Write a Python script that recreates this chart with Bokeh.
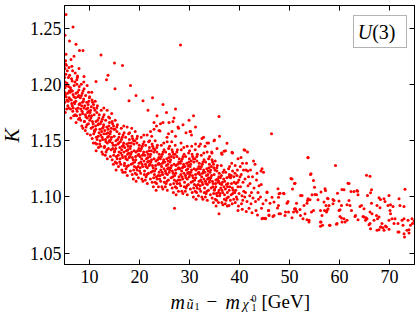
from bokeh.plotting import figure
from bokeh.layouts import column, row
from bokeh.models import (Range1d, FixedTicker, LinearAxis, Label, BoxAnnotation,
                          CustomJSTickFormatter, NumeralTickFormatter, ColumnDataSource)
from bokeh.embed import file_html
from bokeh.resources import INLINE

# ---------------- data ----------------
x_ticks = [10, 20, 30, 40, 50, 60, 70]
y_ticks = [1.05, 1.10, 1.15, 1.20, 1.25]

band_05_09 = [
    (5.05,1.184),(5.12,1.197),(5.03,1.206),(5.31,1.189),(5.08,1.214),(5.44,1.178),(5.22,1.221),(5.63,1.192),
    (5.51,1.201),(5.27,1.209),(5.72,1.185),(5.14,1.175),(5.83,1.198),(5.38,1.217),(5.91,1.188),(5.18,1.191),
    (5.66,1.181),(5.02,1.193),(5.55,1.212),(5.77,1.206),(5.34,1.199),(5.86,1.179),(5.10,1.202),(5.95,1.194),(5.47,1.186),
    (6.07,1.187),(6.33,1.195),(6.21,1.178),(6.52,1.203),(6.44,1.183),(6.71,1.191),(6.62,1.212),(6.84,1.172),
    (6.93,1.199),(6.02,1.208),(6.36,1.186),(6.55,1.181),(6.18,1.197),(6.88,1.189),(6.66,1.176),(6.41,1.205),
    (6.97,1.184),(6.12,1.193),(6.75,1.179),(6.48,1.216),(6.27,1.170),(6.58,1.194),
    (7.04,1.183),(7.29,1.192),(7.15,1.173),(7.48,1.200),(7.37,1.178),(7.69,1.189),(7.58,1.206),(7.79,1.169),
    (7.88,1.195),(7.09,1.202),(7.25,1.185),(7.53,1.176),(7.14,1.210),(7.91,1.182),(7.63,1.193),(7.42,1.172),
    (7.95,1.198),(7.21,1.188),(7.74,1.179),(7.46,1.204),(7.32,1.166),(7.85,1.190),
    (8.03,1.170),(8.38,1.190),(8.26,1.178),(8.59,1.184),(8.47,1.163),(8.71,1.194),(8.64,1.174),(8.83,1.187),
    (8.96,1.167),(8.08,1.183),(8.35,1.200),(8.52,1.176),(8.17,1.188),(8.89,1.179),(8.68,1.161),(8.43,1.181),
    (8.92,1.196),(8.13,1.173),(8.76,1.185),(8.55,1.192),(8.24,1.168),(8.86,1.202),
    (9.05,1.181),(9.31,1.162),(9.23,1.190),(9.57,1.170),(9.45,1.184),(9.78,1.165),(9.61,1.175),(9.82,1.193),
    (9.94,1.172),(9.01,1.167),(9.39,1.178),(9.56,1.156),(9.19,1.173),(9.88,1.185),(9.67,1.179),(9.49,1.164),
    (9.98,1.188),(9.16,1.159),(9.72,1.182),(9.53,1.199),(9.28,1.171),(9.84,1.176),
]

band_10_14 = [
    (10.06,1.168),(10.33,1.161),(10.22,1.177),(10.54,1.152),(10.41,1.172),(10.73,1.165),(10.62,1.184),(10.84,1.156),
    (10.93,1.173),(10.02,1.189),(10.36,1.180),(10.57,1.167),(10.18,1.155),(10.87,1.179),(10.66,1.162),(10.44,1.193),
    (10.97,1.159),(10.11,1.175),(10.77,1.148),(10.51,1.186),(10.27,1.170),(10.81,1.182),
    (11.04,1.158),(11.29,1.167),(11.15,1.148),(11.48,1.175),(11.37,1.153),(11.69,1.164),(11.58,1.181),(11.79,1.144),
    (11.88,1.170),(11.09,1.177),(11.25,1.160),(11.53,1.151),(11.14,1.185),(11.91,1.157),(11.63,1.168),(11.42,1.147),
    (11.95,1.173),(11.21,1.163),(11.74,1.154),(11.46,1.179),(11.32,1.141),(11.85,1.165),
    (12.03,1.147),(12.38,1.167),(12.26,1.155),(12.59,1.161),(12.47,1.140),(12.71,1.171),(12.64,1.151),(12.83,1.164),
    (12.96,1.144),(12.08,1.160),(12.35,1.177),(12.52,1.153),(12.17,1.165),(12.89,1.156),(12.68,1.138),(12.43,1.158),
    (12.92,1.173),(12.13,1.150),(12.76,1.162),(12.55,1.169),(12.24,1.145),(12.86,1.179),
    (13.05,1.159),(13.31,1.140),(13.23,1.168),(13.57,1.148),(13.45,1.162),(13.78,1.143),(13.61,1.153),(13.82,1.171),
    (13.94,1.150),(13.01,1.145),(13.39,1.156),(13.56,1.134),(13.19,1.151),(13.88,1.163),(13.67,1.157),(13.49,1.142),
    (13.98,1.166),(13.16,1.137),(13.72,1.160),(13.53,1.177),(13.28,1.149),(13.84,1.154),
    (14.06,1.149),(14.33,1.142),(14.22,1.158),(14.54,1.133),(14.41,1.153),(14.73,1.146),(14.62,1.165),(14.84,1.137),
    (14.93,1.154),(14.02,1.170),(14.36,1.161),(14.57,1.148),(14.18,1.136),(14.87,1.160),(14.66,1.143),(14.44,1.174),
    (14.97,1.140),(14.11,1.156),(14.77,1.129),(14.51,1.167),(14.27,1.151),(14.81,1.163),
]

band_15_19 = [
    (15.04,1.141),(15.29,1.150),(15.15,1.131),(15.48,1.158),(15.37,1.136),(15.69,1.147),(15.58,1.164),(15.79,1.127),
    (15.88,1.153),(15.09,1.160),(15.25,1.143),(15.53,1.134),(15.14,1.168),(15.91,1.140),(15.63,1.151),(15.42,1.130),
    (15.95,1.156),(15.21,1.146),(15.74,1.137),(15.46,1.162),(15.32,1.124),(15.85,1.148),
    (16.03,1.131),(16.38,1.151),(16.26,1.139),(16.59,1.145),(16.47,1.124),(16.71,1.155),(16.64,1.135),(16.83,1.148),
    (16.96,1.128),(16.08,1.144),(16.35,1.161),(16.52,1.137),(16.17,1.149),(16.89,1.140),(16.68,1.122),(16.43,1.142),
    (16.92,1.157),(16.13,1.134),(16.76,1.146),(16.55,1.153),(16.24,1.129),(16.86,1.163),
    (17.05,1.144),(17.31,1.125),(17.23,1.153),(17.57,1.133),(17.45,1.147),(17.78,1.128),(17.61,1.138),(17.82,1.156),
    (17.94,1.135),(17.01,1.130),(17.39,1.141),(17.56,1.119),(17.19,1.136),(17.88,1.148),(17.67,1.142),(17.49,1.127),
    (17.98,1.151),(17.16,1.122),(17.72,1.145),(17.53,1.162),(17.28,1.134),(17.84,1.139),
    (18.06,1.136),(18.33,1.129),(18.22,1.145),(18.54,1.120),(18.41,1.140),(18.73,1.133),(18.62,1.152),(18.84,1.124),
    (18.93,1.141),(18.02,1.157),(18.36,1.148),(18.57,1.135),(18.18,1.123),(18.87,1.147),(18.66,1.130),(18.44,1.161),
    (18.97,1.127),(18.11,1.143),(18.77,1.116),(18.51,1.154),(18.27,1.138),(18.81,1.150),
    (19.04,1.131),(19.29,1.140),(19.15,1.121),(19.48,1.148),(19.37,1.126),(19.69,1.137),(19.58,1.154),(19.79,1.117),
    (19.88,1.143),(19.09,1.150),(19.25,1.133),(19.53,1.124),(19.14,1.158),(19.91,1.130),(19.63,1.141),(19.42,1.120),
    (19.95,1.146),(19.21,1.136),(19.74,1.127),(19.46,1.152),(19.32,1.114),(19.85,1.138),
]

band_20_24 = [
    (20.03,1.123),(20.38,1.143),(20.26,1.131),(20.59,1.137),(20.47,1.116),(20.71,1.147),(20.64,1.127),(20.83,1.140),
    (20.96,1.120),(20.08,1.136),(20.35,1.153),(20.52,1.129),(20.17,1.141),(20.89,1.132),(20.68,1.114),(20.43,1.134),
    (20.92,1.149),(20.13,1.126),(20.76,1.138),(20.55,1.145),(20.24,1.121),(20.86,1.155),
    (21.05,1.137),(21.31,1.118),(21.23,1.146),(21.57,1.126),(21.45,1.140),(21.78,1.121),(21.61,1.131),(21.82,1.149),
    (21.94,1.128),(21.01,1.123),(21.39,1.134),(21.56,1.112),(21.19,1.129),(21.88,1.141),(21.67,1.135),(21.49,1.120),
    (21.98,1.144),(21.16,1.115),(21.72,1.138),(21.53,1.155),(21.28,1.127),(21.84,1.132),
    (22.06,1.129),(22.33,1.122),(22.22,1.138),(22.54,1.113),(22.41,1.133),(22.73,1.126),(22.62,1.145),(22.84,1.117),
    (22.93,1.134),(22.02,1.150),(22.36,1.141),(22.57,1.128),(22.18,1.116),(22.87,1.140),(22.66,1.123),(22.44,1.154),
    (22.97,1.120),(22.11,1.136),(22.77,1.109),(22.51,1.147),(22.27,1.131),(22.81,1.143),
    (23.04,1.123),(23.29,1.132),(23.15,1.113),(23.48,1.140),(23.37,1.118),(23.69,1.129),(23.58,1.146),(23.79,1.109),
    (23.88,1.135),(23.09,1.142),(23.25,1.125),(23.53,1.116),(23.14,1.150),(23.91,1.122),(23.63,1.133),(23.42,1.112),
    (23.95,1.138),(23.21,1.128),(23.74,1.119),(23.46,1.144),(23.32,1.106),(23.85,1.130),
    (24.03,1.116),(24.38,1.136),(24.26,1.124),(24.59,1.130),(24.47,1.109),(24.71,1.140),(24.64,1.120),(24.83,1.133),
    (24.96,1.113),(24.08,1.129),(24.35,1.146),(24.52,1.122),(24.17,1.134),(24.89,1.125),(24.68,1.107),(24.43,1.127),
    (24.92,1.142),(24.13,1.119),(24.76,1.131),(24.55,1.138),(24.24,1.114),(24.86,1.148),
]

band_25_29 = [
    (25.05,1.131),(25.31,1.112),(25.23,1.140),(25.57,1.120),(25.45,1.134),(25.78,1.115),(25.61,1.125),(25.82,1.143),
    (25.94,1.122),(25.01,1.117),(25.39,1.128),(25.56,1.106),(25.19,1.123),(25.88,1.135),(25.67,1.129),(25.49,1.114),
    (25.98,1.138),(25.16,1.109),(25.72,1.132),(25.53,1.149),(25.28,1.121),(25.84,1.126),
    (26.06,1.124),(26.33,1.117),(26.22,1.133),(26.54,1.108),(26.41,1.128),(26.73,1.121),(26.62,1.140),(26.84,1.112),
    (26.93,1.129),(26.02,1.145),(26.36,1.136),(26.57,1.123),(26.18,1.111),(26.87,1.135),(26.66,1.118),(26.44,1.149),
    (26.97,1.115),(26.11,1.131),(26.77,1.104),(26.51,1.142),(26.27,1.126),(26.81,1.138),
    (27.04,1.119),(27.29,1.128),(27.15,1.109),(27.48,1.136),(27.37,1.114),(27.69,1.125),(27.58,1.142),(27.79,1.105),
    (27.88,1.131),(27.09,1.138),(27.25,1.121),(27.53,1.112),(27.14,1.146),(27.91,1.118),(27.63,1.129),(27.42,1.108),
    (27.95,1.134),(27.21,1.124),(27.74,1.115),(27.46,1.140),(27.32,1.102),(27.85,1.126),
    (28.03,1.112),(28.38,1.132),(28.26,1.120),(28.59,1.126),(28.47,1.105),(28.71,1.136),(28.64,1.116),(28.83,1.129),
    (28.96,1.109),(28.08,1.125),(28.35,1.142),(28.52,1.118),(28.17,1.130),(28.89,1.121),(28.68,1.103),(28.43,1.123),
    (28.92,1.138),(28.13,1.115),(28.76,1.127),(28.55,1.134),(28.24,1.110),(28.86,1.144),
    (29.05,1.127),(29.31,1.108),(29.23,1.136),(29.57,1.116),(29.45,1.130),(29.78,1.111),(29.61,1.121),(29.82,1.139),
    (29.94,1.118),(29.01,1.113),(29.39,1.124),(29.56,1.102),(29.19,1.119),(29.88,1.131),(29.67,1.125),(29.49,1.110),
    (29.98,1.134),(29.16,1.105),(29.72,1.128),(29.53,1.145),(29.28,1.117),(29.84,1.122),
]

band_30_34 = [
    (30.06,1.120),(30.33,1.113),(30.22,1.129),(30.54,1.104),(30.41,1.124),(30.73,1.117),(30.62,1.136),(30.84,1.108),
    (30.93,1.125),(30.02,1.141),(30.36,1.132),(30.57,1.119),(30.18,1.107),(30.87,1.131),(30.66,1.114),(30.44,1.145),
    (30.97,1.111),(30.11,1.127),(30.77,1.100),(30.51,1.138),(30.27,1.122),(30.81,1.134),
    (31.04,1.115),(31.29,1.124),(31.15,1.105),(31.48,1.132),(31.37,1.110),(31.69,1.121),(31.58,1.138),(31.79,1.101),
    (31.88,1.127),(31.09,1.134),(31.25,1.117),(31.53,1.108),(31.14,1.142),(31.91,1.114),(31.63,1.125),(31.42,1.104),
    (31.95,1.130),(31.21,1.120),(31.74,1.111),(31.46,1.136),(31.32,1.098),(31.85,1.122),
    (32.03,1.107),(32.38,1.127),(32.26,1.115),(32.59,1.121),(32.47,1.100),(32.71,1.131),(32.64,1.111),(32.83,1.124),
    (32.96,1.104),(32.08,1.120),(32.35,1.137),(32.52,1.113),(32.17,1.125),(32.89,1.116),(32.68,1.098),(32.43,1.118),
    (32.92,1.133),(32.13,1.110),(32.76,1.122),(32.55,1.129),(32.24,1.105),(32.86,1.139),
    (33.05,1.122),(33.31,1.103),(33.23,1.131),(33.57,1.111),(33.45,1.125),(33.78,1.106),(33.61,1.116),(33.82,1.134),
    (33.94,1.113),(33.01,1.108),(33.39,1.119),(33.56,1.097),(33.19,1.114),(33.88,1.126),(33.67,1.120),(33.49,1.105),
    (33.98,1.129),(33.16,1.100),(33.72,1.123),(33.53,1.140),(33.28,1.112),(33.84,1.117),
    (34.06,1.115),(34.33,1.108),(34.22,1.124),(34.54,1.099),(34.41,1.119),(34.73,1.112),(34.62,1.131),(34.84,1.103),
    (34.93,1.120),(34.02,1.136),(34.36,1.127),(34.57,1.114),(34.18,1.102),(34.87,1.126),(34.66,1.109),(34.44,1.140),
    (34.97,1.106),(34.11,1.122),(34.77,1.095),(34.51,1.133),(34.27,1.117),(34.81,1.129),
]

band_35_45 = [
    (35.04,1.107),(35.29,1.115),(35.15,1.098),(35.48,1.123),(35.37,1.103),(35.69,1.113),(35.58,1.128),(35.79,1.095),
    (35.88,1.118),(35.09,1.124),(35.25,1.109),(35.53,1.101),(35.14,1.132),(35.91,1.106),(35.63,1.116),(35.42,1.097),
    (35.95,1.121),(35.21,1.112),(35.74,1.104),(35.46,1.126),(35.32,1.092),(35.85,1.114),
    (36.03,1.101),(36.38,1.119),(36.26,1.108),(36.59,1.113),(36.47,1.095),(36.71,1.122),(36.64,1.104),(36.83,1.116),
    (36.96,1.098),(36.08,1.112),(36.35,1.128),(36.52,1.106),(36.17,1.117),(36.89,1.109),(36.68,1.093),(36.43,1.111),
    (36.92,1.124),(36.13,1.103),
    (37.05,1.114),(37.31,1.097),(37.23,1.122),(37.57,1.104),(37.45,1.117),(37.78,1.100),(37.61,1.109),(37.82,1.125),
    (37.94,1.106),(37.01,1.102),(37.39,1.111),(37.56,1.092),(37.19,1.107),(37.88,1.118),(37.67,1.112),(37.49,1.099),
    (37.98,1.120),(37.16,1.094),
    (38.06,1.109),(38.33,1.102),(38.22,1.117),(38.54,1.094),(38.41,1.112),(38.73,1.106),(38.62,1.123),(38.84,1.098),
    (38.93,1.113),(38.02,1.127),(38.36,1.119),(38.57,1.108),(38.18,1.097),(38.87,1.118),(38.66,1.103),(38.44,1.130),
    (39.04,1.104),(39.29,1.112),(39.15,1.095),(39.48,1.119),(39.37,1.100),(39.69,1.109),(39.58,1.124),(39.79,1.092),
    (39.88,1.115),(39.09,1.121),(39.25,1.106),(39.53,1.098),(39.14,1.128),(39.91,1.103),(39.63,1.113),
    (40.10,1.118),(40.30,1.135),(40.60,1.130),(40.20,1.109),(40.50,1.101),(40.80,1.124),(40.40,1.094),(40.70,1.113),
    (40.90,1.142),(40.15,1.127),(40.55,1.089),(40.85,1.105),(40.35,1.120),(40.65,1.097),
    (41.10,1.116),(41.30,1.124),(41.60,1.140),(41.80,1.118),(41.20,1.104),(41.50,1.096),(41.70,1.110),(41.40,1.130),
    (41.90,1.090),(41.05,1.100),(41.65,1.123),(41.35,1.087),
    (42.10,1.112),(42.40,1.104),(42.80,1.132),(42.60,1.118),(42.30,1.094),(42.70,1.099),(42.20,1.124),(42.90,1.108),
    (42.50,1.086),(42.05,1.101),
    (43.10,1.129),(43.40,1.115),(43.70,1.104),(43.20,1.096),(43.90,1.110),(43.50,1.121),(43.30,1.088),(43.80,1.098),
    (43.60,1.084),
    (44.50,1.125),(44.30,1.123),(44.80,1.122),(44.35,1.111),(44.60,1.081),(44.90,1.081),(44.20,1.100),(44.70,1.094),
    (44.40,1.090),
    (45.50,1.104),(45.80,1.088),(45.20,1.081),(45.90,1.084),(45.30,1.097),
]

above_band = [
    (5.3,1.262),(6.7,1.251),(5.1,1.2435),(6.0,1.2385),(7.3,1.2356),(5.3,1.2267),(8.0,1.230),(8.7,1.230),
    (12.3,1.226),(15.0,1.219),(16.6,1.2167),(28.2,1.235),(13.7,1.208),(11.3,1.2025),(13.4,1.204),(18.2,1.199),
    (15.1,1.196),(19.3,1.190),(17.9,1.1854),(20.7,1.1854),(22.6,1.188),(21.7,1.177),(24.7,1.182),(23.5,1.172),
    (24.2,1.165),(25.9,1.166),(31.2,1.162),(32.8,1.153),(32.2,1.147),(33.8,1.148),(35.9,1.1715),(36.0,1.154),
    (35.0,1.1506),(37.5,1.1476),(46.4,1.156),(36.9,1.1405),(41.1,1.1414),(38.6,1.139),(53.7,1.135),(34.5,1.139),
    (36.5,1.138),(5.2,1.218),(5.9,1.215),(6.3,1.222),(6.9,1.225),(7.9,1.214),(7.6,1.2075),(8.9,1.207),
    (22.9,1.166),(23.4,1.163),(24.7,1.166),(26.7,1.167),(27.7,1.162),(30.1,1.158),(24.1,1.1586),(25.8,1.156),
    (22.2,1.158),(22.9,1.160),(30.2,1.158),(32.5,1.152),(31.2,1.147),(31.9,1.145),(33.5,1.148),(34.9,1.150),
    (36.4,1.139),(38.5,1.1397),(39.7,1.134),(27.2,1.154),(28.3,1.148),(25.5,1.153),(23.9,1.159),
    (26.5,1.158),(27.8,1.161),(29.3,1.157),(30.4,1.155),(28.7,1.164),(33.1,1.145),(35.5,1.143),(37.2,1.141),
    (26.9,1.170),(29.9,1.168),(25.4,1.175),(27.2,1.178),(30.8,1.172),
    (27.0,1.090),(35.9,1.085),(37.9,1.0925),(39.7,1.088),
]

tail_45_75 = [
    (53.7,1.1347),(50.5,1.116),(54.3,1.1205),(51.0,1.112),(50.6,1.107),(54.8,1.1146),(45.5,1.1043),(48.1,1.1033),
    (48.8,1.1033),(46.5,1.0998),(47.8,1.0998),(49.7,1.096),(52.5,1.1013),(55.1,1.1022),(55.7,1.0975),(53.6,1.0969),
    (54.1,1.0975),(47.6,1.0901),(49.8,1.0866),(51.0,1.0895),(52.1,1.0889),(50.8,1.0866),(51.3,1.088),(53.1,1.0851),
    (53.9,1.0792),(52.7,1.0807),(50.5,1.0816),(49.1,1.0836),(47.9,1.0851),(46.7,1.0827),(45.8,1.088),(54.8,1.088),
    (56.3,1.0777),(56.6,1.0748),(57.0,1.088),(57.3,1.0925),(57.7,1.0984),(56.3,1.1043),(57.1,1.1072),(47.7,1.1072),
    (47.8,1.0925),
    (59.2,1.1279),(54.2,1.120),(65.4,1.1193),(66.1,1.1184),(50.3,1.1164),(51.1,1.1122),(55.0,1.1087),(61.7,1.1122),
    (73.1,1.1069),(57.2,1.1057),(60.9,1.1063),(62.9,1.1049),(63.5,1.1057),(66.4,1.1063),(47.9,1.1028),(48.9,1.1028),
    (52.2,1.1013),(54.5,1.102),(55.4,1.102),(63.7,1.102),(69.9,1.1013),(68.9,1.0984),(53.7,1.0984),(58.9,1.0969),
    (56.9,1.0954),(53.5,1.0945),(46.9,1.0954),(46.1,1.0945),(49.5,1.0945),(51.4,1.0945),(52.9,1.0925),(57.9,1.0925),
    (60.4,1.0925),(61.5,1.0931),(64.4,1.0925),(67.5,1.0925),(70.2,1.0931),(72.1,1.0925),(51.2,1.0896),(51.5,1.0866),
    (54.4,1.0866),(56.2,1.088),(57.5,1.088),(59.9,1.088),(49.2,1.0866),(48.2,1.0851),(45.9,1.0836),(46.9,1.0836),
    (44.5,1.0807),(45.2,1.0807),(52.2,1.0836),(53.5,1.0798),(53.9,1.0777),(56.5,1.0836),(56.2,1.0777),(58.0,1.0748),
    (56.2,1.0739),(59.5,1.0763),(60.9,1.0807),(60.5,1.0777),(61.5,1.0792),(63.2,1.0836),(64.9,1.0821),(65.2,1.0792),
    (65.5,1.0807),(66.1,1.0763),(66.5,1.0851),(66.9,1.0792),(67.9,1.0821),(68.2,1.0733),(68.5,1.0763),(68.9,1.0704),
    (69.4,1.0733),(69.9,1.0792),(70.2,1.0851),(70.5,1.0807),(70.9,1.0763),(66.2,1.0718),(67.5,1.0704),(72.5,1.0792),
    (72.7,1.0748),(73.0,1.0644),(73.5,1.0704),(74.2,1.0748),(74.5,1.0807),(74.9,1.0786),(71.9,1.0688),(73.9,1.068),
    (61.9,1.1119),(60.5,1.1066),(59.6,1.1033),(62.3,1.1049),(63.6,1.1051),(66.2,1.1037),(65.6,1.1013),(71.9,1.0984),
    (57.6,1.0989),(58.7,1.0978),(59.9,1.0963),(61.9,1.0969),(67.9,1.0993),(68.2,1.0978),(58.7,1.094),(62.1,1.0925),
    (64.1,1.0916),(66.4,1.0945),(69.1,1.096),(69.7,1.0925),(70.7,1.0916),(72.9,1.0916),(57.7,1.0895),(60.1,1.0887),
    (62.4,1.088),(64.9,1.0895),(66.1,1.0866),(68.1,1.0904),(70.1,1.088),(57.4,1.0866),(60.1,1.0827),(60.4,1.0812),
    (61.1,1.0777),(63.1,1.0827),(63.7,1.0798),(64.7,1.0827),(65.3,1.0816),(65.9,1.0754),(67.4,1.0836),(67.6,1.0807),
    (68.3,1.0733),(67.9,1.0709),(68.7,1.0727),(69.2,1.0741),(69.9,1.0712),(71.1,1.0807),(71.7,1.0763),(72.9,1.0807),
    (73.7,1.0792),(71.7,1.0688),(72.9,1.0674),(73.9,1.0709),(74.6,1.0763),(58.1,1.0748),(59.4,1.0757),
]

groups = [band_05_09, band_10_14, band_15_19, band_20_24, band_25_29,
          band_30_34, band_35_45, above_band, tail_45_75]
all_pts = [pt for g in groups for pt in g]
source = ColumnDataSource(data=dict(dm=[pt[0] for pt in all_pts], K=[pt[1] for pt in all_pts]))

# ---------------- main figure ----------------
SERIF = "Liberation Serif"
x_range = Range1d(5, 75)
y_range = Range1d(1.04, 1.27)

p = figure(width=396, height=290, output_backend="svg", toolbar_location=None, tools="",
           x_range=x_range, y_range=y_range,
           min_border_left=40, min_border_right=6, min_border_top=5, min_border_bottom=26,
           background_fill_color="white", border_fill_color="white")
p.outline_line_color = "black"
p.outline_line_width = 1
p.grid.visible = False

p.scatter("dm", "K", source=source, marker="circle", size=3, fill_color="#ff0000",
          line_color=None)

def style_axis(ax):
    ax.major_tick_in = 5
    ax.major_tick_out = 0
    ax.minor_tick_in = 0
    ax.minor_tick_out = 0
    ax.axis_line_color = "black"
    ax.major_tick_line_color = "black"
    ax.major_label_text_font = SERIF
    ax.major_label_text_font_size = "18px"
    ax.major_label_text_color = "black"

p.xaxis.ticker = FixedTicker(ticks=x_ticks)
p.xaxis.formatter = NumeralTickFormatter(format="0")
p.yaxis.ticker = FixedTicker(ticks=y_ticks)
p.yaxis.formatter = NumeralTickFormatter(format="0.00")
style_axis(p.xaxis[0])
style_axis(p.yaxis[0])
p.xaxis.major_label_standoff = 5
p.yaxis.major_label_standoff = 3

blank = CustomJSTickFormatter(code="return ''")
top_ax = LinearAxis(ticker=FixedTicker(ticks=x_ticks), formatter=blank)
right_ax = LinearAxis(ticker=FixedTicker(ticks=y_ticks), formatter=blank)
for ax in (top_ax, right_ax):
    style_axis(ax)
    ax.major_label_text_font_size = "1px"
    ax.major_label_standoff = 0
p.add_layout(top_ax, "above")
p.add_layout(right_ax, "right")

def lab(fig, x, y, text, size, italic=False, align="left", baseline="alphabetic", angle=0.0):
    fig.add_layout(Label(x=x, y=y, text=text, text_font=SERIF, text_font_size=size,
                         text_font_style="italic" if italic else "normal",
                         text_align=align, text_baseline=baseline, angle=angle,
                         text_color="black"))

# boxed model label (inside the frame)
p.add_layout(BoxAnnotation(left=62.8, right=73.4, bottom=1.2327, top=1.2611,
                           fill_color="white", fill_alpha=1.0, line_color="black", line_width=1))
lab(p, 66.54, 1.2469, "U", "20px", italic=True, align="right", baseline="middle")
lab(p, 66.54, 1.2469, "(3)", "20px", align="left", baseline="middle")

# ---------------- y title strip (same y scale as the plot) ----------------
kf = figure(width=24, height=290, output_backend="svg", toolbar_location=None, tools="",
            x_range=Range1d(0, 24), y_range=y_range,
            x_axis_type=None, y_axis_type=None,
            min_border_left=0, min_border_right=0, min_border_top=5, min_border_bottom=26,
            background_fill_color="white", border_fill_color="white")
kf.outline_line_color = None
kf.grid.visible = False
lab(kf, 11.5, 1.1546, "K", "21px", italic=True, align="center", baseline="middle", angle=1.5708)

# ---------------- x title strip (same x scale as the plot, y in pixels) ----------------
xt = figure(width=396, height=29, output_backend="svg", toolbar_location=None, tools="",
            x_range=x_range, y_range=Range1d(0, 29),
            x_axis_type=None, y_axis_type=None,
            min_border_left=40, min_border_right=6, min_border_top=0, min_border_bottom=0,
            background_fill_color="white", border_fill_color="white")
xt.outline_line_color = None
xt.grid.visible = False

lab(xt, 26.2, 18, "m", "20px", italic=True)
lab(xt, 29.4, 15, "ũ", "14px", italic=True)
lab(xt, 31.0, 13, "1", "10px")
lab(xt, 33.4, 18, "−", "19px")
lab(xt, 37.2, 18, "m", "20px", italic=True)
lab(xt, 40.6, 15, "χ\u0303", "14px", italic=True)
lab(xt, 42.4, 12, "1", "10px")
lab(xt, 42.4, 21, "0", "10px")
lab(xt, 44.4, 18, "[GeV]", "19px")

layout = row(kf, column(p, xt))
open("out.html", "w").write(file_html(layout, INLINE))
